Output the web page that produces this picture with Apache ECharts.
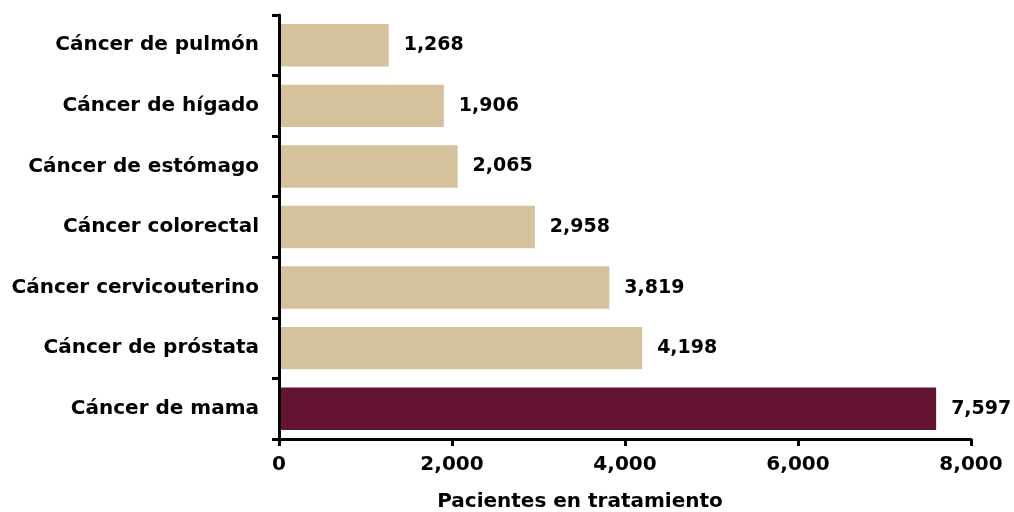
<!DOCTYPE html>
<html><head><meta charset="utf-8">
<script src="https://cdn.jsdelivr.net/npm/echarts@6/dist/echarts.min.js"></script>
<style>html,body{margin:0;padding:0;background:#fff}#c{width:1014px;height:512px}</style>
</head><body><div id="c"></div>
<script>
const categories = ["Cáncer de pulmón","Cáncer de hígado","Cáncer de estómago","Cáncer colorectal","Cáncer cervicouterino","Cáncer de próstata","Cáncer de mama"];
const values = [1268,1906,2065,2958,3819,4198,7597];
const highlight = "Cáncer de mama";
const xTicks = [0,2000,4000,6000,8000];
const axisTitle = "Pacientes en tratamiento";

const FONT = "DejaVu Sans";
const chart = echarts.init(document.getElementById('c'));
chart.setOption({
  animation:false,
  grid:{left:279,right:43,top:15,bottom:73,containLabel:false},
  xAxis:{type:'value',min:xTicks[0],max:xTicks[xTicks.length-1],interval:2000,z:5,
    axisLine:{show:true,lineStyle:{color:'#000',width:3}},
    axisTick:{show:true,length:7,lineStyle:{color:'#000',width:3}},
    splitLine:{show:false},
    axisLabel:{color:'#000',fontFamily:FONT,fontWeight:'bold',fontSize:20,margin:16,
      formatter:v=>v.toLocaleString('en-US')}},
  yAxis:{type:'category',data:categories,inverse:true,z:5,
    axisLine:{show:true,lineStyle:{color:'#000',width:3}},
    axisTick:{show:true,length:7,lineStyle:{color:'#000',width:3}},
    axisLabel:{color:'#000',fontFamily:FONT,fontWeight:'bold',fontSize:20,margin:20}},
  graphic:[{type:'text',x:580,y:502,style:{text:axisTitle,fill:'#000',font:'bold 20px "'+FONT+'"',align:'center',verticalAlign:'middle'}}],
  series:[{type:'bar',barWidth:'70%',
    data:values.map((v,i)=>({value:v,itemStyle:{color:categories[i]===highlight?'#621432':'#D5C19C'}})),
    label:{show:true,position:'right',distance:15,color:'#000',fontFamily:FONT,fontWeight:'bold',fontSize:19,
      formatter:p=>p.value.toLocaleString('en-US')}}]
});
</script></body></html>
